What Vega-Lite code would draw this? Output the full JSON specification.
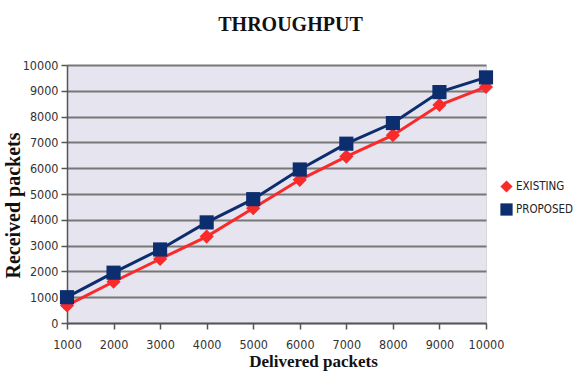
{
  "$schema": "https://vega.github.io/schema/vega-lite/v6.json",
  "autosize": "none",
  "width": 419,
  "height": 258,
  "padding": {"left": 67, "top": 65, "right": 88, "bottom": 52},
  "background": "white",
  "title": {"text": "THROUGHPUT", "font": "Liberation Serif", "fontSize": 20, "fontWeight": "bold", "color": "#111", "anchor": "middle", "dx": 14, "offset": 24},
  "data": {"values": [
    {"x": 1000, "series": "EXISTING", "y": 680},
    {"x": 2000, "series": "EXISTING", "y": 1600},
    {"x": 3000, "series": "EXISTING", "y": 2480},
    {"x": 4000, "series": "EXISTING", "y": 3350},
    {"x": 5000, "series": "EXISTING", "y": 4450},
    {"x": 6000, "series": "EXISTING", "y": 5550},
    {"x": 7000, "series": "EXISTING", "y": 6450},
    {"x": 8000, "series": "EXISTING", "y": 7280},
    {"x": 9000, "series": "EXISTING", "y": 8450},
    {"x": 10000, "series": "EXISTING", "y": 9150},
    {"x": 1000, "series": "PROPOSED", "y": 1000},
    {"x": 2000, "series": "PROPOSED", "y": 1950},
    {"x": 3000, "series": "PROPOSED", "y": 2850},
    {"x": 4000, "series": "PROPOSED", "y": 3900},
    {"x": 5000, "series": "PROPOSED", "y": 4800},
    {"x": 6000, "series": "PROPOSED", "y": 5950},
    {"x": 7000, "series": "PROPOSED", "y": 6950},
    {"x": 8000, "series": "PROPOSED", "y": 7750},
    {"x": 9000, "series": "PROPOSED", "y": 8950},
    {"x": 10000, "series": "PROPOSED", "y": 9520}
  ]},
  "config": {
    "view": {"fill": "#e6e4ef", "stroke": "#d8d8dc", "strokeWidth": 1},
    "axis": {"labelFont": "'DejaVu Sans Condensed', 'Liberation Sans', sans-serif", "labelFontSize": 12.5, "labelColor": "#333", "domainColor": "#555", "tickColor": "#555", "domainWidth": 1.5, "tickWidth": 1.5, "format": "d"}
  },
  "encoding": {
    "x": {"field": "x", "type": "quantitative", "scale": {"domain": [1000, 10000], "nice": false},
      "axis": {"values": [1000,2000,3000,4000,5000,6000,7000,8000,9000,10000], "grid": false, "tickSize": 6, "labelPadding": 9, "labelFlush": false, "labelOverlap": false, "title": "Delivered packets", "titleFont": "Liberation Serif", "titleFontSize": 17, "titleFontWeight": "bold", "titleColor": "#111", "titleX": 246, "titleY": 30}},
    "y": {"field": "y", "type": "quantitative", "scale": {"domain": [0, 10000], "nice": false},
      "axis": {"values": [0,1000,2000,3000,4000,5000,6000,7000,8000,9000,10000], "grid": true, "gridColor": "#777", "gridWidth": 2, "tickSize": 6, "labelPadding": 3, "labelOverlap": false, "title": "Received packets", "titleFont": "Liberation Serif", "titleFontSize": 20, "titleFontWeight": "bold", "titleColor": "#111", "titleX": -44, "titleY": 140}},
    "color": {"field": "series", "type": "nominal", "scale": {"domain": ["EXISTING", "PROPOSED"], "range": ["#fa2a2a", "#0c2d6e"]},
      "legend": {"title": null, "orient": "none", "legendX": 433, "legendY": 115, "labelFont": "'DejaVu Sans Condensed', 'Liberation Sans', sans-serif", "labelFontSize": 11.5, "labelOffset": 3, "labelColor": "#222", "symbolSize": 150, "rowPadding": 10, "symbolStrokeWidth": 0}},
    "shape": {"field": "series", "type": "nominal", "scale": {"domain": ["EXISTING", "PROPOSED"], "range": ["diamond", "square"]}, "legend": null}
  },
  "layer": [
    {"mark": {"type": "line", "strokeWidth": 3}},
    {"mark": {"type": "point", "filled": true, "size": 200, "opacity": 1}}
  ]
}
